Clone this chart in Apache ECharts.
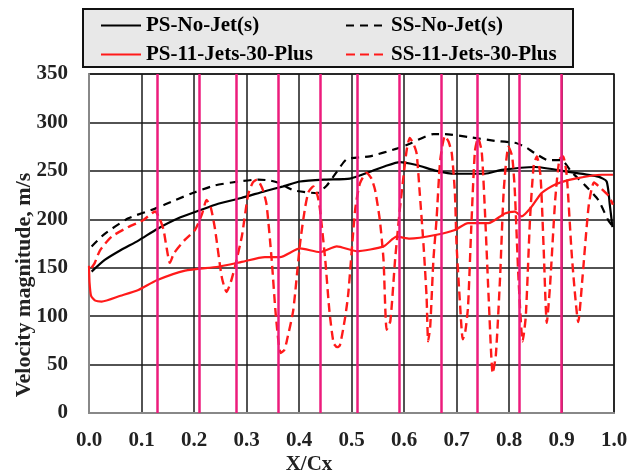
<!DOCTYPE html>
<html>
<head>
<meta charset="utf-8">
<script src="https://cdn.jsdelivr.net/npm/echarts@6/dist/echarts.min.js"></script>
<style>html,body{margin:0;padding:0;background:#fff}#c{width:635px;height:475px}</style>
</head>
<body>
<div id="c"></div>
<script>
var seriesNames = ['PS-No-Jet(s)', 'SS-No-Jet(s)', 'PS-11-Jets-30-Plus', 'SS-11-Jets-30-Plus'];
var xTicks = [0.0, 0.1, 0.2, 0.3, 0.4, 0.5, 0.6, 0.7, 0.8, 0.9, 1.0];
var yTicks = [0, 50, 100, 150, 200, 250, 300, 350];
var jetPositions = [0.129, 0.206, 0.283, 0.359, 0.436, 0.513, 0.590, 0.667, 0.744, 0.821, 0.897];

var psNoJet = [[0.005,146],[0.03,158],[0.06,168],[0.094,178],[0.13,190],[0.17,201],[0.21,209],[0.246,216],[0.29,222],[0.335,229],[0.37,234],[0.402,239],[0.45,241],[0.497,242],[0.535,249],[0.565,255],[0.592,259],[0.624,256],[0.662,250],[0.697,247],[0.754,247],[0.786,251],[0.85,254],[0.913,249],[0.97,244],[0.986,239],[0.992,215],[0.997,192]];
var ssNoJet = [[0.005,172],[0.03,185],[0.075,201],[0.126,211],[0.165,220],[0.202,228],[0.24,235],[0.272,238],[0.322,241],[0.345,240],[0.364,237],[0.389,230],[0.434,227],[0.453,235],[0.472,249],[0.491,262],[0.535,265],[0.586,273],[0.611,278],[0.656,288],[0.678,288],[0.722,285],[0.773,281],[0.811,279],[0.83,275],[0.85,268],[0.875,261],[0.9,261],[0.919,249],[0.945,235],[0.97,220],[0.989,199],[0.997,193]];
var ps11Jets = [[0.0,152],[0.001,135],[0.004,121],[0.012,116],[0.024,115],[0.06,121],[0.094,127],[0.129,137],[0.183,147],[0.246,151],[0.291,156],[0.335,161],[0.364,161],[0.402,170],[0.44,166],[0.472,172],[0.51,167],[0.561,172],[0.586,182],[0.611,180],[0.662,184],[0.697,189],[0.722,196],[0.761,196],[0.792,206],[0.811,208],[0.824,203],[0.843,213],[0.862,227],[0.888,236],[0.926,242],[0.977,246],[0.998,246]];
var ss11Jets = [[0.005,150],[0.011,155],[0.021,168],[0.043,182],[0.075,192],[0.103,199],[0.126,208],[0.135,200],[0.142,189],[0.148,170],[0.154,155],[0.162,165],[0.183,179],[0.202,189],[0.215,205],[0.224,220],[0.232,212],[0.24,190],[0.253,140],[0.262,125],[0.27,135],[0.278,151],[0.291,182],[0.303,225],[0.312,238],[0.32,241],[0.33,232],[0.338,216],[0.348,158],[0.356,100],[0.365,62],[0.372,65],[0.377,75],[0.389,106],[0.402,175],[0.411,210],[0.418,228],[0.427,234],[0.435,225],[0.44,210],[0.45,158],[0.458,105],[0.466,72],[0.473,68],[0.478,70],[0.488,99],[0.494,124],[0.507,210],[0.516,237],[0.529,248],[0.538,242],[0.545,230],[0.554,199],[0.561,158],[0.567,86],[0.574,95],[0.583,158],[0.592,210],[0.599,244],[0.605,271],[0.611,284],[0.618,278],[0.624,268],[0.63,227],[0.637,175],[0.643,120],[0.646,74],[0.65,90],[0.656,158],[0.662,200],[0.669,261],[0.678,286],[0.685,280],[0.691,268],[0.697,227],[0.70,175],[0.707,110],[0.712,76],[0.717,85],[0.722,110],[0.728,190],[0.735,270],[0.741,284],[0.748,270],[0.754,210],[0.762,110],[0.769,41],[0.775,60],[0.783,140],[0.79,230],[0.799,275],[0.806,265],[0.811,230],[0.818,140],[0.826,74],[0.832,100],[0.84,200],[0.847,255],[0.853,265],[0.86,245],[0.866,170],[0.872,93],[0.878,130],[0.888,220],[0.896,262],[0.903,265],[0.91,245],[0.92,160],[0.932,94],[0.94,140],[0.952,215],[0.962,238],[0.975,232],[0.99,224],[0.998,215]];

var FONT = '"Liberation Serif", "Times New Roman", serif';
var chart = echarts.init(document.getElementById('c'), null, {renderer: 'canvas'});

function lineSeries(name, data, color, type, width) {
  return {
    name: name, type: 'line', data: data, showSymbol: false, symbol: 'none', smooth: 0.2,
    lineStyle: {color: color, width: width, type: type}, itemStyle: {color: color},
    emphasis: {disabled: true}, animation: false, z: 3
  };
}

var series = [
  lineSeries(seriesNames[0], psNoJet, '#000000', 'solid', 2.2),
  lineSeries(seriesNames[1], ssNoJet, '#000000', [8, 6], 2.2),
  lineSeries(seriesNames[2], ps11Jets, '#ff1a1a', 'solid', 2.2),
  lineSeries(seriesNames[3], ss11Jets, '#ff1a1a', [9, 5], 2.4)
];
series.push({
  type: 'line', data: [], silent: true, animation: false, z: 4,
  markLine: {
    symbol: 'none', silent: true, animation: false,
    label: {show: false},
    lineStyle: {color: '#ec1c7c', width: 2.5, type: 'solid'},
    data: jetPositions.map(function (v) { return {xAxis: v}; })
  }
});

var legendText = {fontFamily: FONT, fontWeight: 'bold', fontSize: 21, color: '#000'};
var legendCommon = {orient: 'vertical', top: 15, itemWidth: 40, itemHeight: 14, itemGap: 8, textStyle: legendText, padding: 0, selectedMode: false,
  itemStyle: {opacity: 0, borderWidth: 0}, lineStyle: {opacity: 1}};

chart.setOption({
  animation: false,
  backgroundColor: '#ffffff',
  grid: {left: 89, right: 21, top: 74, bottom: 62, show: true, borderColor: '#222', borderWidth: 1.5, backgroundColor: 'transparent'},
  xAxis: {
    type: 'value', min: xTicks[0], max: xTicks[xTicks.length - 1], interval: 0.1,
    axisLine: {show: true, lineStyle: {color: '#888', width: 2}},
    axisTick: {show: false},
    splitLine: {show: true, lineStyle: {color: '#1a1a1a', width: 1.5}},
    axisLabel: {margin: 17, fontFamily: FONT, fontWeight: 'bold', fontSize: 21, color: '#222',
      formatter: function (v) { return v.toFixed(1); }}
  },
  yAxis: {
    type: 'value', min: yTicks[0], max: yTicks[yTicks.length - 1], interval: 50,
    axisLine: {show: true, lineStyle: {color: '#888', width: 2}},
    axisTick: {show: false},
    splitLine: {show: true, lineStyle: {color: '#1a1a1a', width: 1.5}},
    axisLabel: {margin: 21, fontFamily: FONT, fontWeight: 'bold', fontSize: 21, color: '#222'}
  },
  legend: [
    Object.assign({data: [seriesNames[0], seriesNames[2]], left: 100}, legendCommon),
    Object.assign({data: [seriesNames[1], seriesNames[3]], left: 345}, legendCommon)
  ],
  graphic: [
    {type: 'rect', z: -1, shape: {x: 83, y: 9, width: 490, height: 58}, style: {fill: '#e8e8e8', stroke: '#111', lineWidth: 2}},
    {type: 'text', x: 24, y: 285, rotation: Math.PI / 2, style: {text: 'Velocity magnitude, m/s', fontFamily: FONT, fontWeight: 'bold', fontSize: 22, fill: '#222', textAlign: 'center', textVerticalAlign: 'middle'}},
    {type: 'text', x: 309, y: 465, style: {text: 'X/Cx', fontFamily: FONT, fontWeight: 'bold', fontSize: 21, fill: '#222', textAlign: 'center', textVerticalAlign: 'middle'}}
  ],
  series: series
});
</script>
</body>
</html>
